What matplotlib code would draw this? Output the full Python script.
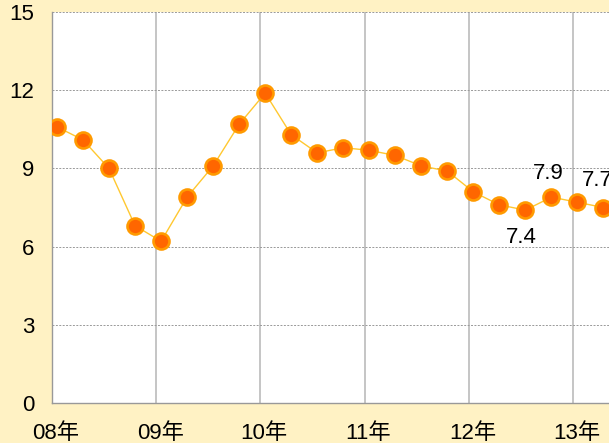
import matplotlib
matplotlib.use('Agg')
import matplotlib.pyplot as plt

plt.rcParams['font.family'] = ['Liberation Sans', 'Noto Sans CJK SC', 'DejaVu Sans']

# Quarterly values, 2008 Q1 onwards
values = [10.6, 10.1, 9.0, 6.8, 6.2, 7.9, 9.1, 10.7, 11.9, 10.3, 9.6, 9.8,
          9.7, 9.5, 9.1, 8.9, 8.1, 7.6, 7.4, 7.9, 7.7, 7.5]
year_labels = ['08年', '09年', '10年', '11年', '12年', '13年']
y_ticks = [0, 3, 6, 9, 12, 15]
# data labels: (point index, text, offset in px)
point_labels = [(18, '7.4', (-4, -27)), (19, '7.9', (-3, 24)), (20, '7.7', (20, 22))]

x = [0.045 + i * 0.25 for i in range(len(values))]

bg = '#FFF2C4'
fig = plt.figure(figsize=(6.09, 4.43), dpi=100, facecolor=bg)
ax = fig.add_axes([0.0859, 0.0914, 1 - 0.0859, 0.9718 - 0.0914])
ax.set_facecolor('white')

ax.plot(x, values, color='#FFC830', linewidth=1.0, zorder=3,
        marker='o', markersize=11.5, markerfacecolor='#FF6600',
        markeredgecolor='#FF9A00', markeredgewidth=1.9)

for idx, txt, (dx, dy) in point_labels:
    ax.annotate(txt, (x[idx], values[idx]), xytext=(dx * 0.72, dy * 0.72),
                textcoords='offset points', ha='center', va='center',
                fontsize=16, color='black', zorder=4, annotation_clip=False)

ax.set_xlim(0, 5.348)
ax.set_ylim(0, 15)
ax.set_yticks(y_ticks)
ax.set_yticklabels([str(v) for v in y_ticks])
ax.set_xticks(range(len(year_labels)))
ax.set_xticklabels([])
ax.set_xticks([i + 0.036 for i in range(len(year_labels))], minor=True)
ax.set_xticklabels(year_labels, minor=True)

ax.tick_params(axis='y', length=0, pad=13, labelsize=16)
ax.tick_params(axis='x', which='both', length=0, pad=15, labelsize=16)

ax.yaxis.grid(True, color='#999999', linestyle=(0, (2, 1.5)), linewidth=0.7)
ax.xaxis.grid(True, which='major', color='#BBBBBB', linestyle='-', linewidth=1.2)
ax.set_axisbelow(True)

for s in ['top', 'right']:
    ax.spines[s].set_visible(False)
for s in ['left', 'bottom']:
    ax.spines[s].set_color('#999999')
    ax.spines[s].set_linewidth(1.0)

fig.savefig('out.png', dpi=100, facecolor=bg)
